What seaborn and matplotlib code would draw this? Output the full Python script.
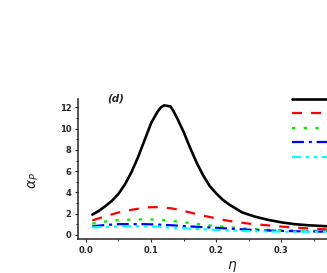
import pandas as pd
import seaborn as sns
import matplotlib.pyplot as plt
from matplotlib.ticker import MultipleLocator

# --- Data (eta vs alpha_P, five curves) ---
# the peaked curve is sampled more densely so the peak stays smooth
eta_black = [0.01, 0.02, 0.03, 0.04, 0.05, 0.06, 0.07, 0.08, 0.09, 0.10, 0.11,
             0.115, 0.12, 0.13, 0.135, 0.14, 0.15, 0.16, 0.17, 0.18, 0.19, 0.20,
             0.21, 0.22, 0.24, 0.26, 0.28, 0.30, 0.32, 0.34, 0.37]
curve_black = [1.9, 2.25, 2.7, 3.2, 3.85, 4.75, 5.9, 7.3, 8.9, 10.5, 11.6,
               12.0, 12.2, 12.1, 11.6, 11.0, 9.7, 8.2, 6.8, 5.6, 4.6, 3.9,
               3.3, 2.85, 2.1, 1.7, 1.4, 1.17, 1.0, 0.9, 0.8]

eta = [0.01, 0.03, 0.05, 0.07, 0.08, 0.09, 0.10, 0.11, 0.12, 0.13, 0.14,
       0.15, 0.16, 0.18, 0.20, 0.22, 0.25, 0.28, 0.31, 0.34, 0.37]
curve_red = [1.35, 1.75, 2.1, 2.35, 2.45, 2.55, 2.6, 2.6, 2.55, 2.5, 2.4,
             2.25, 2.1, 1.8, 1.55, 1.3, 1.05, 0.88, 0.72, 0.6, 0.5]
curve_green = [1.05, 1.25, 1.38, 1.43, 1.45, 1.45, 1.44, 1.42, 1.38, 1.32, 1.25,
               1.18, 1.1, 0.95, 0.82, 0.7, 0.56, 0.47, 0.42, 0.38, 0.35]
curve_blue = [0.8, 0.92, 1.0, 1.0, 1.0, 1.0, 0.98, 0.96, 0.93, 0.9, 0.86,
              0.82, 0.78, 0.72, 0.66, 0.58, 0.48, 0.4, 0.35, 0.31, 0.29]
curve_cyan = [0.7, 0.75, 0.79, 0.8, 0.8, 0.79, 0.78, 0.76, 0.72, 0.68, 0.65,
              0.62, 0.58, 0.52, 0.46, 0.4, 0.34, 0.31, 0.29, 0.28, 0.27]

curve_names = ["c1", "c2", "c3", "c4", "c5"]
curve_eta = [eta_black, eta, eta, eta, eta]
curve_values = [curve_black, curve_red, curve_green, curve_blue, curve_cyan]

# long format table for seaborn
df = pd.concat(
    [pd.DataFrame({"eta": xs, "alpha": ys, "curve": name})
     for name, xs, ys in zip(curve_names, curve_eta, curve_values)],
    ignore_index=True,
)

sns.set_style("ticks")
plt.rcParams["font.family"] = ["DejaVu Sans"]
plt.rcParams["lines.scale_dashes"] = False
plt.rcParams["mathtext.fontset"] = "dejavusans"

palette = dict(zip(curve_names, ["#000000", "#ff0000", "#00ee00", "#0000ff", "#00ffff"]))
dashes = dict(zip(curve_names, [
    "",
    (7.2, 6.5),
    (2.4, 6.0),
    (8.6, 3.5, 2.2, 3.4),
    (6.5, 3.4, 2.4, 3.4, 2.4, 3.4),
]))

fig = plt.figure(figsize=(3.27, 2.73), dpi=100)
ax = fig.add_axes([78 / 327, 34 / 273, 249 / 327, 140 / 273])

sns.lineplot(data=df, x="eta", y="alpha", hue="curve", style="curve",
             palette=palette, dashes=dashes, linewidth=1.6,
             legend=False, sort=True, ax=ax)
ax.lines[0].set_linewidth(1.9)

ax.set_xlim(-0.012, 0.37)
ax.set_ylim(-0.4, 12.8)
ax.xaxis.set_major_locator(MultipleLocator(0.1))
ax.xaxis.set_minor_locator(MultipleLocator(0.05))
ax.yaxis.set_major_locator(MultipleLocator(2))
ax.yaxis.set_minor_locator(MultipleLocator(1))
ax.xaxis.set_major_formatter(plt.FormatStrFormatter("%.1f"))

for side in ["top", "right"]:
    ax.spines[side].set_visible(False)
for side in ["left", "bottom"]:
    ax.spines[side].set_linewidth(1.1)

ax.tick_params(which="major", direction="out", length=2.4, width=0.8, pad=2.3,
               labelsize=6)
ax.tick_params(which="minor", direction="out", length=1.4, width=0.7)
for lab in ax.get_xticklabels() + ax.get_yticklabels():
    lab.set_fontweight("bold")

ax.set_xlabel(r"$\eta$", fontsize=10)
ax.set_ylabel(r"$\alpha_P$", fontsize=10)
ax.xaxis.set_label_coords(0.62, -0.14)
ax.yaxis.set_label_coords(-0.15, 0.42)

ax.text(0.116, 1.007, "(d)", transform=ax.transAxes, fontsize=7.5,
        fontweight="bold", fontstyle="italic", va="center", ha="left")

# legend: only the line samples fall inside the visible crop
ax.legend(handles=ax.lines[:5], labels=[""] * 5, loc="upper left",
          bbox_to_anchor=(292 / 327, 1 - 94 / 273), bbox_transform=fig.transFigure,
          frameon=False, borderpad=0, borderaxespad=0, fontsize=7,
          handlelength=6, labelspacing=0.47, handletextpad=0.5)

fig.savefig("out.png", dpi=100)
